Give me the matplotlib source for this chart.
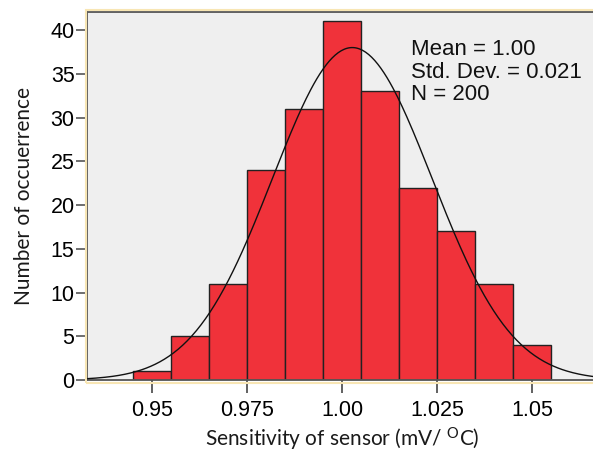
import numpy as np
import matplotlib
matplotlib.use("Agg")
import matplotlib.pyplot as plt
from matplotlib.patches import Rectangle

# histogram data (bin width 0.01)
bin_centers = [0.95, 0.96, 0.97, 0.98, 0.99, 1.00, 1.01, 1.02, 1.03, 1.04, 1.05]
counts = [1, 5, 11, 24, 31, 41, 33, 22, 17, 11, 4]
bin_width = 0.01

# summary stats shown on the chart
mean_val = 1.0027
std_val = 0.021
n_total = 200

xticks = [0.95, 0.975, 1.00, 1.025, 1.05]
xtick_labels = ["0.95", "0.975", "1.00", "1.025", "1.05"]
yticks = [0, 5, 10, 15, 20, 25, 30, 35, 40]

plt.rcParams['mathtext.default'] = 'regular'

W, H = 593, 453
fig = plt.figure(figsize=(W / 100, H / 100), dpi=100)
ax = fig.add_axes([87 / W, 73 / H, (597 - 87) / W, (380 - 12) / H])
ax.set_facecolor('#efefef')

ax.bar(bin_centers, counts, width=bin_width, color='#f0323a',
       edgecolor='#222222', linewidth=1.0, zorder=2)

# fitted normal curve
xs = np.linspace(0.92, 1.08, 400)
ys = n_total * bin_width / (std_val * np.sqrt(2 * np.pi)) * np.exp(-0.5 * ((xs - mean_val) / std_val) ** 2)
ax.plot(xs, ys, color='#111111', linewidth=1.0, zorder=3)

ax.set_xlim(0.9329, 1.0671)
ax.set_ylim(0, 42.06)

ax.set_xticks(xticks)
ax.set_xticklabels(xtick_labels, fontfamily='Liberation Sans', fontsize=15.5)
ax.set_yticks(yticks)
ax.set_yticklabels([str(v) for v in yticks], fontfamily='Liberation Sans', fontsize=15.5)
ax.tick_params(axis='x', length=9.5, width=1.3, color='#555555', pad=5)
ax.tick_params(axis='y', length=8, width=1.2, color='#555555', pad=1)

for s in ax.spines.values():
    s.set_color('#555555')
    s.set_linewidth(1.3)

# pale outer frame
fig.patches.append(Rectangle((85.5 / W, (H - 382.5) / H), 0.9, (382.5 - 10) / H,
                             transform=fig.transFigure, fill=False,
                             edgecolor='#f8e6b4', linewidth=1.5, zorder=0))

ax.set_xlabel(r'Sensitivity of sensor (mV/ $^{O}$C)', fontfamily='Lato', fontsize=15,
              color='#1a1a1a', labelpad=3)
ax.set_ylabel('Number of occuerrence', fontfamily='Lato', fontsize=15,
              color='#1a1a1a', labelpad=12)

stats = ["Mean = %.2f" % 1.00, "Std. Dev. = %.3f" % std_val, "N = %d" % n_total]
for k, line in enumerate(stats):
    fig.text(411 / W, 1 - (55 + 22.5 * k) / H, line, fontfamily='Liberation Sans',
             fontsize=16, va='baseline', ha='left', color='#111111')

fig.savefig('out.png', dpi=100)
